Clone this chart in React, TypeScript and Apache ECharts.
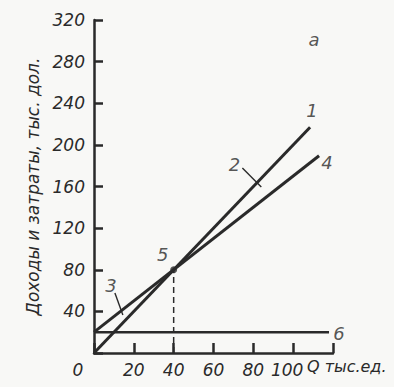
import React, { useEffect, useRef } from "react";
import * as echarts from "echarts";

const xLabels = ["0", "20", "40", "60", "80", "100", ""];
const revenue = [[0, 0], [108.5, 217]]; // line 1
const totalCost = [[0, 20], [113, 189.5]]; // line 3-4
const fixedCost = [[0, 20], [118, 20]]; // line 6
const breakEven = [[40, 80]]; // point 5
const breakEvenDrop = [[40, 0], [40, 80]];
const leader2 = [[74.5, 177.8], [84, 159.5]];
const leader3 = [[10.5, 57.7], [14.5, 36.5]];
const labelNames = ["1", "2", "3", "4", "5", "6", "а"];
const labelPoints = [
  [109.5, 233.5],
  [70.5, 180.7],
  [8.5, 65.3],
  [117, 182.6],
  [34.5, 94.2],
  [123, 19.2],
  [110.5, 300.8],
];

const ink = "#2a2a2a";
const font = "DejaVu Sans";

export default function App() {
  const ref = useRef<HTMLDivElement>(null);
  useEffect(() => {
    if (!ref.current) return;
    const chart = echarts.init(ref.current, null, { renderer: "svg" });
    const lineStyle = (w: number, type: any = "solid") => ({ color: ink, width: w, type });
    const txt = { fontSize: 17, fontStyle: "italic", fontFamily: font, color: ink };
    chart.setOption({
      animation: false,
      backgroundColor: "#f8f8f6",
      grid: {
        left: 94,
        top: 20,
        width: 239,
        height: 333,
        containLabel: false,
        outerBoundsMode: "none",
      },
      graphic: [
        {
          type: "text",
          left: 307,
          top: 358,
          style: { text: "Q тыс.ед.", font: "italic 16px 'DejaVu Sans'", fill: ink },
        },
      ],
      xAxis: {
        type: "value",
        min: 0,
        max: 120,
        interval: 20,
        splitLine: { show: false },
        axisLine: { onZero: false, lineStyle: { color: ink, width: 2.5 } },
        axisTick: { show: true, inside: true, length: 10, lineStyle: { color: ink, width: 2.5 } },
        axisLabel: {
          margin: 8,
          ...txt,
          formatter: (v: number) => {
            const s = xLabels[Math.round(v / 20)] ?? "";
            if (!s) return "";
            return v === 0 ? "{z|" + s + "}" : v === 100 ? "{h|" + s + "}" : "{n|" + s + "}";
          },
          rich: {
            z: { padding: [0, 32, 0, 0], ...txt },
            h: { padding: [0, 12, 0, 0], ...txt },
            n: { ...txt },
          },
        },
      },
      yAxis: {
        type: "value",
        min: 0,
        max: 320,
        interval: 40,
        splitLine: { show: false },
        name: "Доходы и затраты, тыс. дол.",
        nameLocation: "middle",
        nameGap: 42,
        nameRotate: 90,
        nameTextStyle: { ...txt },
        axisLine: { onZero: false, lineStyle: { color: ink, width: 2.5 } },
        axisTick: { show: true, inside: true, length: 9, lineStyle: { color: ink, width: 2.5 } },
        axisLabel: {
          margin: 9,
          ...txt,
          formatter: (v: number) => (v === 0 ? "" : String(v)),
        },
      },
      series: [
        { type: "line", data: revenue, symbol: "none", lineStyle: lineStyle(3) },
        { type: "line", data: totalCost, symbol: "none", lineStyle: lineStyle(3) },
        { type: "line", data: fixedCost, symbol: "none", lineStyle: lineStyle(2.4), clip: false },
        { type: "line", data: breakEvenDrop, symbol: "none", lineStyle: lineStyle(1.5, [6, 4]) },
        { type: "line", data: leader2, symbol: "none", lineStyle: lineStyle(1.4) },
        { type: "line", data: leader3, symbol: "none", lineStyle: lineStyle(1.4) },
        {
          type: "scatter",
          data: breakEven,
          symbolSize: 7,
          itemStyle: { color: ink },
        },
        {
          type: "scatter",
          clip: false,
          symbolSize: 0,
          data: labelPoints.map((p, i) => ({ value: p, name: labelNames[i] })),
          label: {
            show: true,
            position: "inside",
            formatter: (p: any) => p.name,
            ...txt,
            fontSize: 18,
          },
        },
      ],
    });
    return () => chart.dispose();
  }, []);
  return (
    <div
      ref={ref}
      style={{ position: "fixed", left: 0, top: 0, width: 394, height: 387 }}
    />
  );
}
